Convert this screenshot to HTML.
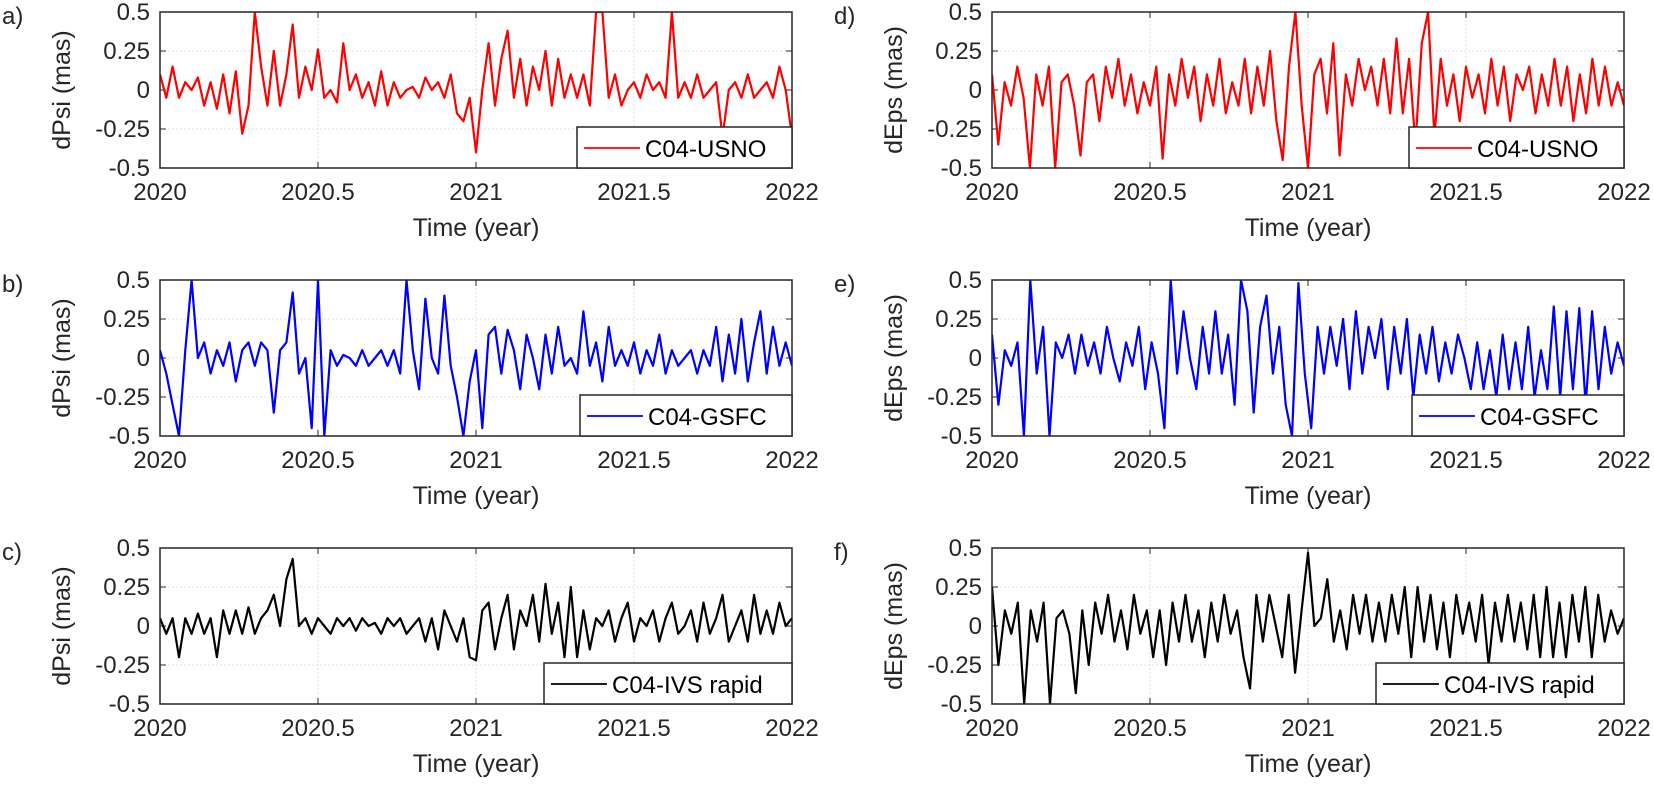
<!DOCTYPE html>
<html><head><meta charset="utf-8"><style>
html,body{margin:0;padding:0;background:#fff;}
svg{display:block;font-family:"Liberation Sans",Arial,sans-serif;}
</style></head><body>
<svg id="fig" width="1654" height="793" viewBox="0 0 1654 793"></svg>
<script>
const xTicks=[2020,2020.5,2021,2021.5,2022];
const xTickLabels=["2020","2020.5","2021","2021.5","2022"];
const yTicks=[0.5,0.25,0,-0.25,-0.5];
const yTickLabels=["0.5","0.25","0","-0.25","-0.5"];
const startYear=2020, endYear=2022;
const usnoPsi=[0.1,-0.05,0.15,-0.05,0.05,0.0,0.08,-0.1,0.05,-0.12,0.1,-0.15,0.12,-0.28,-0.1,0.5,0.15,-0.1,0.25,-0.1,0.1,0.42,-0.05,0.15,0.0,0.26,-0.05,0.0,-0.08,0.3,0.0,0.1,-0.05,0.05,-0.1,0.12,-0.1,0.05,-0.05,0.0,0.02,-0.05,0.08,0.0,0.05,-0.05,0.1,-0.15,-0.2,-0.05,-0.4,0.0,0.3,-0.1,0.2,0.38,-0.05,0.2,-0.1,0.15,0.0,0.25,-0.1,0.2,-0.05,0.1,-0.05,0.1,-0.1,0.5,0.5,-0.05,0.1,-0.1,0.0,0.05,-0.05,0.1,0.0,0.05,-0.05,0.5,-0.05,0.05,-0.05,0.1,-0.05,0.0,0.05,-0.3,0.0,0.05,-0.05,0.1,-0.05,0.0,0.05,-0.05,0.15,0.0,-0.3];
const gsfcPsi=[0.05,-0.1,-0.3,-0.5,0.05,0.5,0.0,0.1,-0.1,0.05,-0.05,0.1,-0.15,0.05,0.1,-0.05,0.1,0.05,-0.35,0.05,0.1,0.42,-0.1,0.0,-0.45,0.5,-0.5,0.05,-0.05,0.02,0.0,-0.05,0.05,-0.05,0.0,0.05,-0.05,0.05,-0.1,0.5,0.05,-0.2,0.38,0.0,-0.1,0.4,-0.05,-0.25,-0.5,-0.15,0.05,-0.45,0.15,0.2,-0.1,0.18,0.05,-0.2,0.15,0.0,-0.2,0.15,-0.1,0.2,-0.05,0.0,-0.1,0.3,-0.05,0.1,-0.15,0.2,-0.05,0.05,-0.05,0.1,-0.1,0.05,-0.05,0.15,-0.1,0.05,-0.05,0.0,0.05,-0.1,0.05,-0.05,0.2,-0.15,0.15,-0.1,0.25,-0.15,0.1,0.3,-0.1,0.2,-0.05,0.1,-0.05];
const ivsPsi=[0.05,-0.05,0.05,-0.2,0.05,-0.05,0.08,-0.05,0.05,-0.2,0.1,-0.05,0.1,-0.05,0.12,-0.05,0.05,0.1,0.2,0.0,0.3,0.43,0.0,0.05,-0.05,0.05,0.0,-0.05,0.05,0.0,0.05,-0.03,0.05,0.0,0.02,-0.05,0.05,0.0,0.05,-0.05,0.0,0.05,-0.1,0.05,-0.15,0.1,0.0,-0.1,0.05,-0.2,-0.22,0.1,0.15,-0.15,0.05,0.2,-0.15,0.1,0.0,0.2,-0.1,0.27,-0.05,0.15,-0.2,0.25,-0.2,0.1,-0.15,0.05,0.0,0.1,-0.1,0.05,0.15,-0.1,0.05,0.0,0.1,-0.1,0.05,0.15,-0.05,0.0,0.1,-0.1,0.15,-0.05,0.05,0.2,-0.1,0.0,0.1,-0.1,0.2,-0.05,0.1,-0.05,0.15,0.0,0.05];
const usnoEps=[0.1,-0.35,0.05,-0.1,0.15,-0.05,-0.5,0.1,-0.1,0.15,-0.5,0.05,0.1,-0.1,-0.42,0.05,0.1,-0.2,0.15,-0.05,0.2,-0.1,0.1,-0.15,0.05,-0.1,0.15,-0.44,0.1,-0.1,0.2,-0.05,0.15,-0.2,0.1,-0.1,0.2,-0.15,0.05,-0.1,0.2,-0.15,0.15,-0.1,0.25,-0.2,-0.45,0.15,0.5,-0.1,-0.5,0.1,0.2,-0.15,0.3,-0.42,0.1,-0.1,0.2,0.0,0.15,-0.1,0.2,-0.15,0.33,-0.15,0.2,-0.35,0.3,0.5,-0.3,0.2,-0.1,0.1,-0.2,0.15,-0.05,0.1,-0.15,0.2,-0.1,0.15,-0.2,0.1,0.0,0.15,-0.15,0.1,-0.1,0.2,-0.1,0.15,-0.2,0.1,-0.15,0.2,-0.1,0.15,-0.1,0.05,-0.1];
const gsfcEps=[0.15,-0.3,0.05,-0.05,0.1,-0.5,0.5,-0.1,0.2,-0.5,0.1,0.0,0.15,-0.1,0.15,-0.05,0.1,-0.1,0.2,0.0,-0.15,0.1,-0.05,0.2,-0.2,0.1,-0.1,-0.45,0.5,-0.1,0.3,0.0,-0.2,0.2,-0.1,0.3,-0.1,0.15,-0.3,0.5,0.3,-0.35,0.2,0.4,-0.1,0.2,-0.3,-0.5,0.48,-0.1,-0.45,0.2,-0.1,0.2,-0.05,0.25,-0.2,0.3,-0.1,0.2,0.0,0.25,-0.2,0.2,-0.1,0.25,-0.25,0.15,-0.1,0.2,-0.15,0.1,-0.1,0.15,0.0,-0.2,0.1,-0.2,0.05,-0.25,0.15,-0.2,0.1,-0.2,0.2,-0.25,0.05,-0.2,0.33,-0.25,0.3,-0.2,0.32,-0.3,0.3,-0.2,0.2,-0.1,0.1,-0.05];
const ivsEps=[0.25,-0.25,0.1,-0.05,0.15,-0.5,0.1,-0.1,0.15,-0.5,0.05,0.1,-0.05,-0.43,0.1,-0.25,0.15,-0.05,0.2,-0.1,0.1,-0.15,0.2,-0.05,0.1,-0.2,0.1,-0.25,0.15,-0.1,0.2,-0.1,0.1,-0.2,0.15,-0.1,0.2,-0.05,0.1,-0.2,-0.4,0.2,-0.1,0.2,0.0,-0.2,0.2,-0.3,0.1,0.47,0.0,0.05,0.3,-0.1,0.1,-0.15,0.2,-0.05,0.2,-0.1,0.15,-0.1,0.2,-0.05,0.25,-0.2,0.25,-0.1,0.2,-0.15,0.15,-0.2,0.2,-0.05,0.15,-0.1,0.2,-0.25,0.15,-0.1,0.2,-0.1,0.15,-0.15,0.2,-0.2,0.25,-0.2,0.15,-0.2,0.2,-0.1,0.25,-0.2,0.2,-0.1,0.1,-0.05,0.05];

const NS="http://www.w3.org/2000/svg";
const svg=document.getElementById('fig');
function mk(tag,attrs,parent){const e=document.createElementNS(NS,tag);for(const k in attrs)e.setAttribute(k,attrs[k]);(parent||svg).appendChild(e);return e;}
const panels=[
 {id:'a',L:160,T:12,data:usnoPsi,color:'#ff0000',ylab:'dPsi (mas)',leg:'C04-USNO',lw:215},
 {id:'b',L:160,T:280,data:gsfcPsi,color:'#0000ff',ylab:'dPsi (mas)',leg:'C04-GSFC',lw:212},
 {id:'c',L:160,T:548,data:ivsPsi,color:'#000000',ylab:'dPsi (mas)',leg:'C04-IVS rapid',lw:248},
 {id:'d',L:992,T:12,data:usnoEps,color:'#ff0000',ylab:'dEps (mas)',leg:'C04-USNO',lw:215},
 {id:'e',L:992,T:280,data:gsfcEps,color:'#0000ff',ylab:'dEps (mas)',leg:'C04-GSFC',lw:212},
 {id:'f',L:992,T:548,data:ivsEps,color:'#000000',ylab:'dEps (mas)',leg:'C04-IVS rapid',lw:248}
];
const W=632,H=156;
panels.forEach(p=>{
 const g=mk('g',{});
 
 
 const xs=v=>p.L+(v-startYear)/(endYear-startYear)*W;
 const ys=v=>p.T+(0.5-v)/1.0*H;
 const cp=mk('clipPath',{id:'clip'+p.id},g);
 mk('rect',{x:p.L,y:p.T,width:W,height:H},cp);
 xTicks.forEach((t,i)=>{
  const gl=mk('line',{x1:xs(t),x2:xs(t),y1:p.T,y2:p.T+H,stroke:'#e3e3e3','stroke-width':1,'stroke-dasharray':'2,2'},g);
  
  
  mk('line',{x1:xs(t),x2:xs(t),y1:p.T+H,y2:p.T+H-6,stroke:'#262626','stroke-width':1},g);
  mk('line',{x1:xs(t),x2:xs(t),y1:p.T,y2:p.T+6,stroke:'#262626','stroke-width':1},g);
  const tx=mk('text',{x:xs(t),y:p.T+H+32,'text-anchor':'middle','font-size':24,fill:'#262626'},g);
  tx.textContent=xTickLabels[i];
  
  
 });
 yTicks.forEach((t,i)=>{
  const gl=mk('line',{x1:p.L,x2:p.L+W,y1:ys(t),y2:ys(t),stroke:'#e3e3e3','stroke-width':1,'stroke-dasharray':'2,2'},g);
  
  
  mk('line',{x1:p.L,x2:p.L+6,y1:ys(t),y2:ys(t),stroke:'#262626','stroke-width':1},g);
  mk('line',{x1:p.L+W,x2:p.L+W-6,y1:ys(t),y2:ys(t),stroke:'#262626','stroke-width':1},g);
  const tx=mk('text',{x:p.L-10,y:ys(t)+8,'text-anchor':'end','font-size':24,fill:'#262626'},g);
  tx.textContent=yTickLabels[i];
  
  
 });
 const n=p.data.length;
 const pts=p.data.map((v,i)=>xs(startYear+(endYear-startYear)*i/(n-1)).toFixed(1)+','+ys(v).toFixed(1)).join(' ');
 const line=mk('polyline',{points:pts,fill:'none',stroke:p.color,'stroke-width':2.2,'stroke-linejoin':'round','clip-path':'url(#clip'+p.id+')'},g);
 
 
 const box=mk('rect',{x:p.L,y:p.T,width:W,height:H,fill:'none',stroke:'#262626','stroke-width':1.5},g);
 
 
 const lg=mk('g',{},g);
 
 
 mk('rect',{x:p.L+W-p.lw,y:p.T+H-41,width:p.lw,height:41,fill:'#fff',stroke:'#262626','stroke-width':1.5},lg);
 mk('line',{x1:p.L+W-p.lw+7,x2:p.L+W-p.lw+63,y1:p.T+H-20,y2:p.T+H-20,stroke:p.color,'stroke-width':1.8},lg);
 const lt=mk('text',{x:p.L+W-p.lw+68,y:p.T+H-11,'font-size':24,fill:'#000'},lg);
 lt.textContent=p.leg;
 
 
 const yl=mk('text',{x:0,y:0,'text-anchor':'middle','font-size':25,fill:'#262626',transform:'translate('+(p.L-90)+','+(p.T+H/2)+') rotate(-90)'},g);
 yl.textContent=p.ylab;
 
 
 const xl=mk('text',{x:p.L+W/2,y:p.T+H+68,'text-anchor':'middle','font-size':25,fill:'#262626'},g);
 xl.textContent='Time (year)';
 
 
 const pl=mk('text',{x:p.L-158,y:p.T+12,'font-size':24,fill:'#262626'},g);
 pl.textContent=p.id+')';
 
 
});
</script>
</body></html>
